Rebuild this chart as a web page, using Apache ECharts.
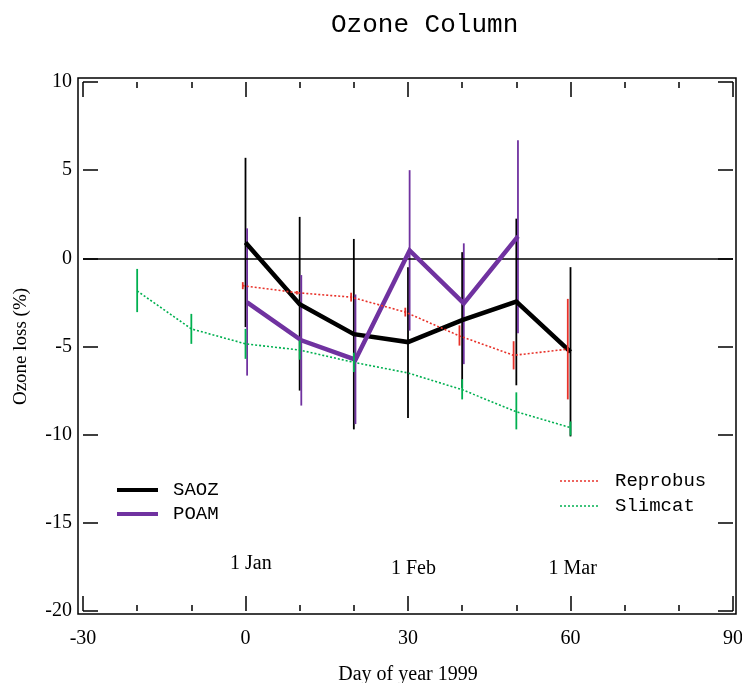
<!DOCTYPE html>
<html>
<head>
<meta charset="utf-8">
<script src="https://cdn.jsdelivr.net/npm/echarts@6/dist/echarts.min.js"></script>
<style>
  html, body { margin: 0; padding: 0; background: #fff; }
  #chart { width: 742px; height: 683px; }
</style>
</head>
<body>
<div id="chart"></div>
<script>
// Ozone column loss, winter 1998/99: observations (SAOZ, POAM) and models (Reprobus, Slimcat)
const saozDays = [0, 10, 20, 30, 40, 50, 60];
const saozLoss = [0.9, -2.6, -4.3, -4.75, -3.5, -2.45, -5.3];
const saozLow  = [-3.9, -7.5, -9.7, -9.05, -7.35, -7.2, -10.1];
const saozHigh = [5.7, 2.35, 1.1, -0.5, 0.35, 2.25, -0.5];

const poamDays = [0.3, 10.3, 20.3, 30.3, 40.3, 50.3];
const poamLoss = [-2.5, -4.65, -5.75, 0.45, -2.55, 1.25];
const poamLow  = [-6.65, -8.35, -9.4, -4.1, -6.0, -4.25];
const poamHigh = [1.7, -0.95, -2.05, 5.0, 0.85, 6.7];

const reprobusDays = [-0.5, 9.5, 19.5, 29.5, 39.5, 49.5, 59.5];
const reprobusLoss = [-1.55, -1.95, -2.2, -3.05, -4.4, -5.5, -5.15];
const reprobusLow  = [-1.75, -2.05, -2.45, -3.3, -4.95, -6.3, -8.0];
const reprobusHigh = [-1.35, -1.85, -1.95, -2.8, -3.8, -4.7, -2.3];

const slimcatDays = [-20, -10, 0, 10, 20, 30, 40, 50, 60];
const slimcatLoss = [-1.85, -4.0, -4.85, -5.2, -5.9, -6.5, -7.45, -8.7, -9.6];
const slimcatLow  = [-3.05, -4.85, -5.7, -5.75, -6.45, -6.5, -8.0, -9.7, -10.05];
const slimcatHigh = [-0.6, -3.15, -4.0, -4.65, -5.35, -6.5, -6.85, -7.6, -9.25];

const monthNames = ['1 Jan', '1 Feb', '1 Mar'];
const monthDays  = [1, 31, 60.4];
const monthLevel = [-17.3, -17.6, -17.6];

const xTicks = { min: -30, max: 90, interval: 30 };
const yTicks = { min: -20, max: 10, interval: 5 };

const SERIF = '"Liberation Serif", "Times New Roman", serif';
const MONO = '"Liberation Mono", "Courier New", monospace';
const COLORS = { saoz: '#000000', poam: '#7032A0', reprobus: '#E8322A', slimcat: '#00B050' };
const DOTS = [2, 2];

const zip = (xs, ys) => xs.map((x, i) => [x, ys[i]]);
const zip3 = (xs, lo, hi) => xs.map((x, i) => [x, lo[i], hi[i]]);

// vertical error bar drawn from low to high at each day
function errorBars(name, days, lo, hi, color, width, z) {
  return {
    name: name + ' range',
    type: 'custom',
    xAxisIndex: 0, yAxisIndex: 0,
    z: z,
    silent: true,
    data: zip3(days, lo, hi),
    encode: { x: 0, y: [1, 2] },
    renderItem: function (params, api) {
      const a = api.coord([api.value(0), api.value(1)]);
      const b = api.coord([api.value(0), api.value(2)]);
      return {
        type: 'line',
        shape: { x1: a[0], y1: a[1], x2: b[0], y2: b[1] },
        style: { stroke: color, lineWidth: width }
      };
    }
  };
}

function lineSeries(name, days, vals, color, width, dotted, z) {
  return {
    name: name,
    type: 'line',
    xAxisIndex: 0, yAxisIndex: 0,
    z: z,
    data: zip(days, vals),
    symbol: 'none',
    silent: true,
    lineStyle: { color: color, width: width, type: dotted ? DOTS : 'solid', cap: 'butt', join: 'miter' },
    itemStyle: { color: color }
  };
}

// key entries: a short line sample followed by the series name
function keyEntry(label, color, width, dotted, x, y, textX) {
  return [
    {
      type: 'line', silent: true,
      shape: { x1: x[0], y1: y, x2: x[1], y2: y },
      style: { stroke: color, lineWidth: width, lineDash: dotted ? DOTS : null }
    },
    {
      type: 'text', silent: true, x: textX, y: y,
      style: { text: label, fill: '#000', font: '19px ' + MONO, verticalAlign: 'middle', align: 'left' }
    }
  ];
}

const tickStyle = { color: '#000', width: 1.5 };

const chart = echarts.init(document.getElementById('chart'), null, { renderer: 'canvas' });
chart.setOption({
  animation: false,
  backgroundColor: '#fff',
  title: {
    text: 'Ozone Column',
    left: 326, top: 7,
    textStyle: { fontFamily: MONO, fontSize: 26, fontWeight: 'normal', color: '#000' }
  },
  grid: [
    { left: 83, right: 9, top: 82, bottom: 72, containLabel: false, outerBoundsMode: 'none' },
    { left: 78, right: 6, top: 78, bottom: 69, containLabel: false, outerBoundsMode: 'none',
      show: true, borderColor: '#000', borderWidth: 1.5, backgroundColor: 'transparent' }
  ],
  graphic: [].concat(
    keyEntry('SAOZ', COLORS.saoz, 4, false, [117, 158], 490, 173),
    keyEntry('POAM', COLORS.poam, 4, false, [117, 158], 514, 173),
    keyEntry('Reprobus', COLORS.reprobus, 1.5, true, [560, 600], 481, 615),
    keyEntry('Slimcat', COLORS.slimcat, 1.5, true, [560, 600], 506, 615)
  ),
  xAxis: [
    {
      gridIndex: 0, type: 'value', position: 'bottom',
      min: xTicks.min, max: xTicks.max, interval: xTicks.interval,
      axisLine: { show: false, onZero: false },
      axisTick: { show: true, inside: true, length: 15, lineStyle: tickStyle },
      minorTick: { show: true, splitNumber: 3, length: 6, lineStyle: tickStyle },
      splitLine: { show: false },
      axisLabel: { fontFamily: SERIF, fontSize: 20, color: '#000', margin: 18 },
      name: 'Day of year 1999', nameLocation: 'middle', nameGap: 54,
      nameTextStyle: { fontFamily: SERIF, fontSize: 20, color: '#000' }
    },
    {
      gridIndex: 0, type: 'value', position: 'top',
      min: xTicks.min, max: xTicks.max, interval: xTicks.interval,
      axisLine: { show: false, onZero: false },
      axisTick: { show: true, inside: true, length: 15, lineStyle: tickStyle },
      minorTick: { show: true, splitNumber: 3, length: 6, lineStyle: tickStyle },
      splitLine: { show: false },
      axisLabel: { show: false }
    },
    { gridIndex: 1, type: 'value', show: false, min: 0, max: 1 }
  ],
  yAxis: [
    {
      gridIndex: 0, type: 'value', position: 'left',
      min: yTicks.min, max: yTicks.max, interval: yTicks.interval,
      axisLine: { show: false, onZero: false },
      axisTick: { show: true, inside: true, length: 15, lineStyle: tickStyle },
      splitLine: { show: false },
      axisLabel: { fontFamily: SERIF, fontSize: 20, color: '#000', margin: 11 },
      name: 'Ozone loss (%)', nameLocation: 'middle', nameGap: 52,
      nameTextStyle: { fontFamily: SERIF, fontSize: 19, color: '#000' }
    },
    {
      gridIndex: 0, type: 'value', position: 'right',
      min: yTicks.min, max: yTicks.max, interval: yTicks.interval,
      axisLine: { show: false, onZero: false },
      axisTick: { show: true, inside: true, length: 15, lineStyle: tickStyle },
      splitLine: { show: false },
      axisLabel: { show: false }
    },
    { gridIndex: 1, type: 'value', show: false, min: 0, max: 1 }
  ],
  series: [
    Object.assign(errorBars('SAOZ', saozDays, saozLow, saozHigh, COLORS.saoz, 1.8, 2), {
      markLine: {
        silent: true, symbol: 'none', label: { show: false },
        lineStyle: { color: '#000', width: 1.5, type: 'solid' },
        data: [{ yAxis: 0 }]
      }
    }),
    errorBars('POAM', poamDays, poamLow, poamHigh, COLORS.poam, 1.8, 3),
    lineSeries('SAOZ', saozDays, saozLoss, COLORS.saoz, 4.5, false, 4),
    lineSeries('POAM', poamDays, poamLoss, COLORS.poam, 4.5, false, 5),
    errorBars('Reprobus', reprobusDays, reprobusLow, reprobusHigh, COLORS.reprobus, 1.8, 6),
    lineSeries('Reprobus', reprobusDays, reprobusLoss, COLORS.reprobus, 1.6, true, 6),
    errorBars('Slimcat', slimcatDays, slimcatLow, slimcatHigh, COLORS.slimcat, 1.8, 7),
    lineSeries('Slimcat', slimcatDays, slimcatLoss, COLORS.slimcat, 1.6, true, 7),
    {
      // month markers placed in data coordinates
      name: 'months',
      type: 'custom',
      xAxisIndex: 0, yAxisIndex: 0,
      silent: true,
      z: 8,
      data: monthNames.map((n, i) => [monthDays[i], monthLevel[i], i]),
      renderItem: function (params, api) {
        const p = api.coord([api.value(0), api.value(1)]);
        return {
          type: 'text', x: p[0], y: p[1],
          style: { text: monthNames[api.value(2)], fill: '#000', font: '20px ' + SERIF, align: 'center', verticalAlign: 'middle' }
        };
      }
    }
  ]
});
</script>
</body>
</html>
